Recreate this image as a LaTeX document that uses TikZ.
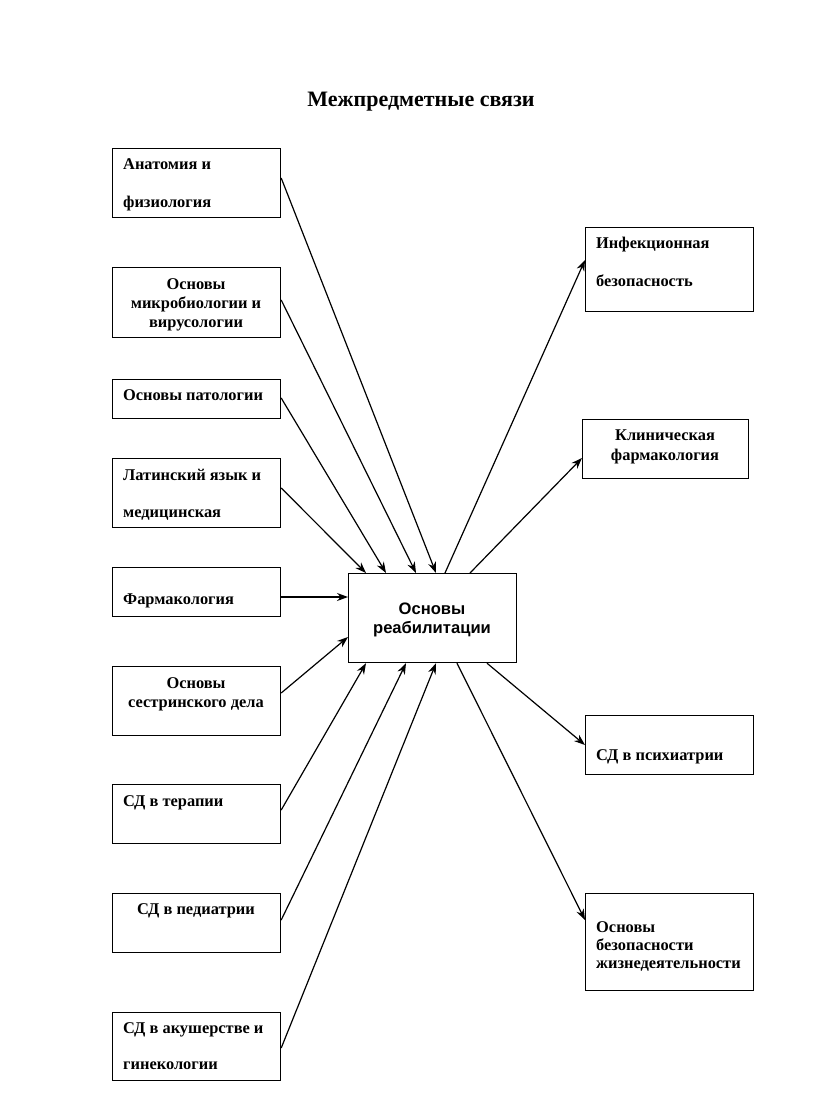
\documentclass[tikz,border=0pt]{standalone}
\usepackage{fontspec}
\setmainfont{Liberation Serif}
\newfontfamily\arialfont{Liberation Sans}
\usetikzlibrary{arrows.meta}
\begin{document}
\begin{tikzpicture}[x=1pt,y=-1pt,
  box/.style={draw, line width=1.2pt, rectangle, anchor=north west, inner sep=0pt},
  txt/.style={font=\fontsize{16.4}{19}\selectfont\bfseries, inner sep=0pt},
  ctxt/.style={font=\arialfont\fontsize{16.6}{19}\selectfont\bfseries, anchor=base, inner sep=0pt},
  arr/.style={line width=1.2pt, -{Stealth[length=11pt,width=8pt]}}]
\useasboundingbox (0,0) rectangle (816,1099);
\node[font=\fontsize{22}{26}\selectfont\bfseries, anchor=base] (title) at (421,107) {Межпредметные связи};
% left boxes
\node[box, minimum width=168pt, minimum height=69pt] (b1) at (112,148) {};
\node[txt, anchor=base west] (t1a) at (123,170) {Анатомия и};
\node[txt, anchor=base west] (t1b) at (123,208) {физиология};
\node[box, minimum width=168pt, minimum height=70pt] (b2) at (112,267) {};
\node[txt, anchor=base] (t2a) at (196,289) {Основы};
\node[txt, anchor=base] (t2b) at (196,308) {микробиологии и};
\node[txt, anchor=base] (t2c) at (196,327) {вирусологии};
\node[box, minimum width=168pt, minimum height=39pt] (b3) at (112,379) {};
\node[txt, anchor=base west] (t3) at (123,400) {Основы патологии};
\node[box, minimum width=168pt, minimum height=69pt] (b4) at (112,458) {};
\node[txt, anchor=base west] (t4a) at (123,480) {Латинский язык и};
\node[txt, anchor=base west] (t4b) at (123,517) {медицинская};
\node[box, minimum width=168pt, minimum height=49pt] (b5) at (112,567) {};
\node[txt, anchor=base west] (t5) at (123,604) {Фармакология};
\node[box, minimum width=168pt, minimum height=69pt] (b6) at (112,666) {};
\node[txt, anchor=base] (t6a) at (196,688) {Основы};
\node[txt, anchor=base] (t6b) at (196,707) {сестринского дела};
\node[box, minimum width=168pt, minimum height=59pt] (b7) at (112,784) {};
\node[txt, anchor=base west] (t7) at (123,806) {СД в терапии};
\node[box, minimum width=168pt, minimum height=59pt] (b8) at (112,893) {};
\node[txt, anchor=base] (t8) at (196,914) {СД в педиатрии};
\node[box, minimum width=168pt, minimum height=68pt] (b9) at (112,1012) {};
\node[txt, anchor=base west] (t9a) at (123,1033) {СД в акушерстве и};
\node[txt, anchor=base west] (t9b) at (123,1069) {гинекологии};
% center
\node[box, minimum width=168pt, minimum height=89pt] (c) at (348,573) {};
\node[ctxt] (ca) at (432,614) {Основы};
\node[ctxt] (cb) at (432,633) {реабилитации};
% right boxes
\node[box, minimum width=168pt, minimum height=84pt] (r1) at (585,227) {};
\node[txt, anchor=base west] (s1a) at (596,248) {Инфекционная};
\node[txt, anchor=base west] (s1b) at (596,286) {безопасность};
\node[box, minimum width=166pt, minimum height=59pt] (r2) at (582,419) {};
\node[txt, anchor=base] (s2a) at (665,440) {Клиническая};
\node[txt, anchor=base] (s2b) at (665,460) {фармакология};
\node[box, minimum width=168pt, minimum height=59pt] (r3) at (585,715) {};
\node[txt, anchor=base west] (s3) at (596,760) {СД в психиатрии};
\node[box, minimum width=168pt, minimum height=97pt] (r4) at (585,893) {};
\node[txt, anchor=base west] (s4a) at (596,932) {Основы};
\node[txt, anchor=base west] (s4b) at (596,950) {безопасности};
\node[txt, anchor=base west] (s4c) at (596,968) {жизнедеятельности};
% connectors into center
\draw[arr] (b1.east |- 0,178) -- (c.north -| 436,0);
\draw[arr] (b2.east |- 0,300) -- (c.north -| 416,0);
\draw[arr] (b3.east |- 0,398) -- (c.north -| 386,0);
\draw[arr] (b4.east |- 0,488) -- (c.north -| 366,0);
\draw[arr] (b5.east |- 0,597) -- (c.west |- 0,597);
\draw[arr] (b6.east |- 0,693) -- (c.west |- 0,637);
\draw[arr] (b7.east |- 0,810) -- (c.south -| 366,0);
\draw[arr] (b8.east |- 0,920) -- (c.south -| 406,0);
\draw[arr] (b9.east |- 0,1048) -- (c.south -| 436,0);
% connectors out of center
\draw[arr] (c.north -| 445,0) -- (r1.west |- 0,260);
\draw[arr] (c.north -| 470,0) -- (r2.west |- 0,458);
\draw[arr] (c.south -| 487,0) -- (r3.west |- 0,745);
\draw[arr] (c.south -| 457,0) -- (r4.west |- 0,920);
\end{tikzpicture}
\end{document}
